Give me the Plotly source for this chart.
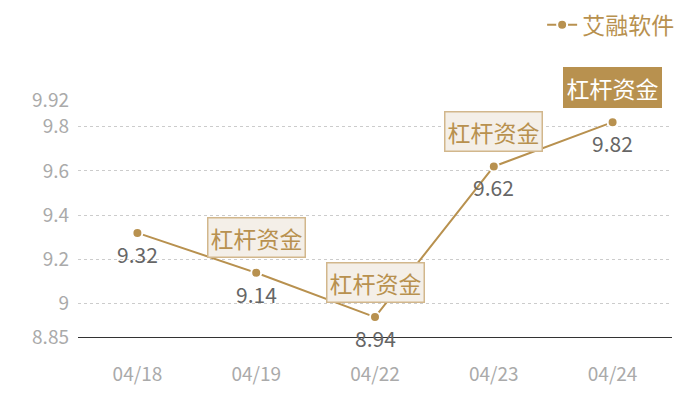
import plotly.graph_objects as go

dates = ["04/18", "04/19", "04/22", "04/23", "04/24"]
values = [9.32, 9.14, 8.94, 9.62, 9.82]
series_name = "艾融软件"
y_ticks = [8.85, 9, 9.2, 9.4, 9.6, 9.8, 9.92]
y_tick_labels = ["8.85", "9", "9.2", "9.4", "9.6", "9.8", "9.92"]
tag_dates = ["04/19", "04/22", "04/23", "04/24"]
tag_values = [9.14, 8.94, 9.62, 9.82]
tag_text = "杠杆资金"

GOLD = "#B8914F"
FONT = "Noto Sans CJK SC, Open Sans, sans-serif"

fig = go.Figure()
fig.add_trace(go.Scatter(
    x=dates, y=values, name=series_name,
    mode="lines+markers",
    line=dict(color=GOLD, width=2),
    marker=dict(color=GOLD, size=10, line=dict(color="white", width=2)),
    cliponaxis=False,
))

# value labels below each point
for d, v in zip(dates, values):
    fig.add_annotation(
        x=d, y=v, xref="x", yref="y", text=f"{v:g}", showarrow=False,
        yshift=-21, font=dict(size=21, color="#666666", family=FONT),
    )

for i, (d, v) in enumerate(zip(tag_dates, tag_values)):
    last = i == len(tag_dates) - 1
    fig.add_annotation(
        x=d, y=v, xref="x", yref="y", text=tag_text, showarrow=False,
        yshift=35,
        font=dict(size=23, color="white" if last else GOLD, family=FONT),
        bgcolor=GOLD if last else "#F4EFE8",
        bordercolor="#D2B78C" if not last else GOLD,
        borderwidth=1.5, borderpad=2,
    )

fig.update_layout(
    width=700, height=400,
    margin=dict(l=70, r=36, t=92, b=71),
    paper_bgcolor="white", plot_bgcolor="white",
    font=dict(family=FONT),
    showlegend=True,
    legend=dict(orientation="h", x=1.012, xanchor="right", xref="paper",
                y=0.958, yref="container", yanchor="middle",
                font=dict(size=23, color=GOLD, family=FONT),
                bgcolor="rgba(0,0,0,0)", itemwidth=30),
    xaxis=dict(type="category", range=[-0.5, 4.5], showgrid=False,
               showline=True, linecolor="#333333", linewidth=1,
               tickfont=dict(size=19, color="#AAAAAA", family=FONT),
               ticks="", ticklabelstandoff=20, fixedrange=True, automargin=False),
    yaxis=dict(range=[8.85, 9.92], tickvals=y_ticks, ticktext=y_tick_labels,
               showgrid=True, gridcolor="#CCCCCC", griddash="dot", gridwidth=1,
               zeroline=False, showline=False,
               tickfont=dict(size=19, color="#AAAAAA", family=FONT),
               ticks="", ticklabelstandoff=8, fixedrange=True, automargin=False),
)

fig.write_html("out.html")
